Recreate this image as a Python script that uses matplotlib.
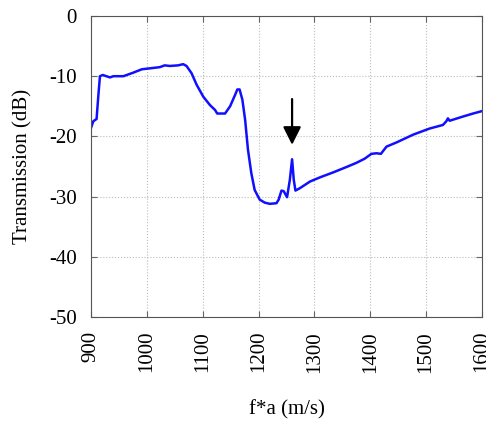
import numpy as np
import matplotlib
matplotlib.use("Agg")
import matplotlib.pyplot as plt

plt.rcParams['font.family'] = ['Liberation Serif', 'DejaVu Serif']

# curve
fa = [900, 904, 910, 913, 916, 921, 934, 940, 958, 976, 991, 1005, 1023, 1032,
      1041, 1056, 1065, 1071, 1080, 1089, 1101, 1113, 1122, 1126, 1140, 1149,
      1158, 1162, 1166, 1171, 1176, 1181, 1187, 1193, 1202, 1211, 1220, 1232,
      1236, 1241, 1245, 1251, 1256, 1260, 1263, 1266, 1274, 1292, 1310, 1333,
      1357, 1375, 1390, 1402, 1411, 1419, 1429, 1447, 1477, 1506, 1530, 1536,
      1539, 1542, 1566, 1584, 1600]
trans = [-18.6, -17.5, -17.1, -13.4, -10.0, -9.8, -10.2, -10.0, -10.0, -9.4,
         -8.85, -8.7, -8.5, -8.2, -8.3, -8.2, -8.0, -8.3, -9.5, -11.4, -13.4,
         -14.8, -15.6, -16.2, -16.2, -15.0, -13.1, -12.2, -12.2, -13.9, -17.3,
         -22.2, -26.1, -28.9, -30.5, -31.0, -31.2, -31.1, -30.5, -29.0, -29.1,
         -30.1, -27.2, -23.8, -27.2, -29.0, -28.6, -27.5, -26.8, -26.0, -25.1,
         -24.4, -23.7, -22.9, -22.8, -22.9, -21.7, -21.0, -19.7, -18.7, -18.1,
         -17.5, -17.0, -17.4, -16.7, -16.2, -15.8]

xticks = [900, 1000, 1100, 1200, 1300, 1400, 1500, 1600]
yticks = [0, -10, -20, -30, -40, -50]

arrow_x = 1260
arrow_from = -13.8
arrow_to = -21.4

fig = plt.figure(figsize=(4.86, 4.21), dpi=100)
ax = fig.add_axes([91/486, 1-317/421, (482-91)/486, (317-16)/421])

ax.plot(fa, trans, color='#1010ff', lw=1.8)

ax.annotate('', xy=(arrow_x, arrow_to), xytext=(arrow_x, arrow_from),
            arrowprops=dict(arrowstyle='-|>,head_width=0.32,head_length=0.64',
                            mutation_scale=17, shrinkA=0, shrinkB=0,
                            color='black', lw=1.6))

ax.set_xlim(900, 1600)
ax.set_ylim(-50, 0)
ax.set_xticks(xticks)
ax.set_yticks(yticks)
ax.set_xticklabels([str(t) for t in xticks], rotation=90, fontsize=15)
ax.set_yticklabels([str(t) for t in yticks], fontsize=15)
ax.tick_params(direction='in', top=True, right=True, length=4, color='#666666')
ax.tick_params(axis='x', pad=10)
ax.tick_params(axis='y', pad=10)
ax.grid(True, color='#bbbbbb', linestyle=':', lw=0.8)
for s in ax.spines.values():
    s.set_color('#555555')
    s.set_linewidth(0.8)

ax.set_xlabel('f*a (m/s)', fontsize=15, labelpad=20)
ax.set_ylabel('Transmission (dB)', fontsize=15, labelpad=12)

fig.savefig('out.png', dpi=100)
